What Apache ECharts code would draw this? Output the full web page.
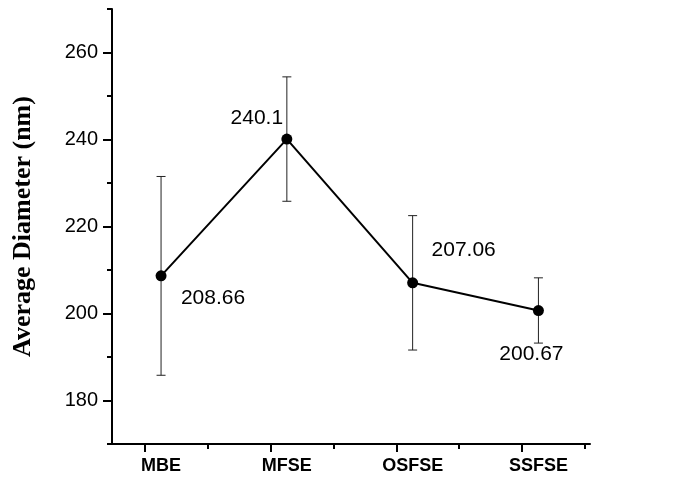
<!DOCTYPE html>
<html>
<head>
<meta charset="utf-8">
<script src="https://cdn.jsdelivr.net/npm/echarts@6/dist/echarts.min.js"></script>
<style>
  html, body { margin: 0; padding: 0; background: #ffffff; }
  #chart { width: 684px; height: 487px; }
</style>
</head>
<body>
<div id="chart"></div>
<script>
// Sample groups and their mean particle diameters (nm)
const categories = ['MBE', 'MFSE', 'OSFSE', 'SSFSE'];
const meanDiameter = [208.66, 240.1, 207.06, 200.67];
// Error bar limits (nm)
const errLow = [185.8, 225.8, 191.6, 193.2];
const errHigh = [231.5, 254.4, 222.5, 208.2];
// Y axis tick values
const yMajorTicks = [180, 200, 220, 240, 260];
const yMinorTicks = [170, 190, 210, 230, 250, 270];
// X axis tick positions (in category units)
const xMajorTicks = [-0.13, 0.87, 1.87, 2.87];
const xMinorTicks = [0.37, 1.37, 2.37, 3.37];

// Value label offsets from each marker, in pixels
const labelOffsets = [[52, 22], [-30, -21], [51, -33], [-7, 44]];

const FONT = 'Liberation Sans, Arial, sans-serif';

const chart = echarts.init(document.getElementById('chart'), null, { renderer: 'canvas' });

const points = meanDiameter.map((v, i) => [i, v]);
const bars = meanDiameter.map((v, i) => [i, errLow[i], errHigh[i]]);

const xBase = {
  type: 'value', min: -0.39, max: 3.41,
  splitLine: { show: false }
};
const yBase = {
  type: 'value', min: 170, max: 270,
  splitLine: { show: false }
};

chart.setOption({
  animation: false,
  backgroundColor: '#ffffff',
  grid: { left: 112, right: 94, top: 9, bottom: 43 },
  xAxis: [
    Object.assign({}, xBase, {
      axisLine: { show: true, onZero: false, lineStyle: { color: '#000', width: 2 } },
      axisTick: { show: true, customValues: xMajorTicks, length: 8, lineStyle: { color: '#000', width: 2 } },
      axisLabel: {
        show: true, customValues: [0, 1, 2, 3], margin: 13,
        formatter: v => categories[Math.round(v)] || '',
        fontFamily: FONT, fontSize: 18, fontWeight: 'bold', color: '#000'
      }
    }),
    Object.assign({}, xBase, {
      position: 'bottom',
      axisLine: { show: false, onZero: false },
      axisTick: { show: true, customValues: xMinorTicks, length: 5, lineStyle: { color: '#000', width: 2 } },
      axisLabel: { show: false }
    })
  ],
  yAxis: [
    Object.assign({}, yBase, {
      name: 'Average Diameter (nm)',
      nameLocation: 'middle', nameGap: 76,
      nameTextStyle: { fontFamily: 'Liberation Serif, Times New Roman, serif', fontSize: 26, fontWeight: 'bold', color: '#000' },
      axisLine: { show: true, onZero: false, lineStyle: { color: '#000', width: 2 } },
      axisTick: { show: true, customValues: yMajorTicks, length: 9, lineStyle: { color: '#000', width: 2 } },
      axisLabel: {
        show: true, customValues: yMajorTicks, margin: 14,
        fontFamily: FONT, fontSize: 20, color: '#000'
      }
    }),
    Object.assign({}, yBase, {
      position: 'left',
      axisLine: { show: false, onZero: false },
      axisTick: { show: true, customValues: yMinorTicks, length: 5, lineStyle: { color: '#000', width: 2 } },
      axisLabel: { show: false }
    })
  ],
  series: [
    {
      type: 'custom',
      xAxisIndex: 0, yAxisIndex: 0,
      data: bars,
      z: 2,
      renderItem: function (params, api) {
        const x = api.value(0);
        const lo = api.coord([x, api.value(1)]);
        const hi = api.coord([x, api.value(2)]);
        const cap = 4.5;
        const style = { stroke: '#222', lineWidth: 1 };
        return {
          type: 'group',
          children: [
            { type: 'line', shape: { x1: hi[0], y1: hi[1], x2: lo[0], y2: lo[1] }, style: style },
            { type: 'line', shape: { x1: hi[0] - cap, y1: hi[1], x2: hi[0] + cap, y2: hi[1] }, style: style },
            { type: 'line', shape: { x1: lo[0] - cap, y1: lo[1], x2: lo[0] + cap, y2: lo[1] }, style: style }
          ]
        };
      }
    },
    {
      type: 'line',
      xAxisIndex: 0, yAxisIndex: 0,
      data: points,
      z: 3,
      symbol: 'circle',
      symbolSize: 11,
      lineStyle: { color: '#000', width: 2 },
      itemStyle: { color: '#000' },
      label: {
        show: true,
        formatter: p => String(meanDiameter[p.dataIndex]),
        fontFamily: FONT, fontSize: 21, color: '#000',
        position: 'inside'
      },
      labelLayout: function (params) {
        const off = labelOffsets[params.dataIndex];
        const cx = params.rect.x + params.rect.width / 2;
        const cy = params.rect.y + params.rect.height / 2;
        return { x: cx + off[0], y: cy + off[1], align: 'center', verticalAlign: 'middle' };
      }
    }
  ]
});
</script>
</body>
</html>
